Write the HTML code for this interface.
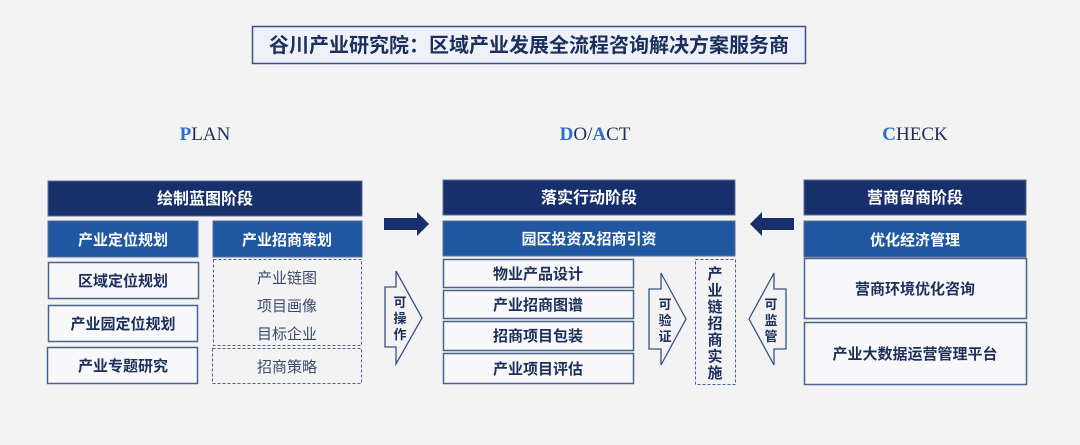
<!DOCTYPE html>
<html><head><meta charset="utf-8"><style>
body{margin:0;background:#f3f3f3;}
svg{display:block}
text{font-family:"Liberation Sans","Noto Sans CJK SC",sans-serif;font-weight:bold;}
.w{fill:#fff;font-size:15px}
.d{fill:#1c2f5c;font-size:15px}
.g{fill:#3a4a6e;font-size:15px;font-weight:normal}
.ser{font-family:"Liberation Serif",serif;font-weight:normal;font-size:19px;fill:#1c2f5c}
</style></head><body>
<svg width="1080" height="445" viewBox="0 0 1080 445">
<rect width="1080" height="445" fill="#f3f3f3"/>
<rect x="252.5" y="26.5" width="553" height="37" fill="#eef1f7" stroke="#3b5287" stroke-width="1.5"/>
<text x="529" y="52" text-anchor="middle" style="font-size:20px;fill:#1c2f5c">谷川产业研究院：区域产业发展全流程咨询解决方案服务商</text>
<text class="ser" x="205" y="140" text-anchor="middle"><tspan fill="#2a6fd0" font-weight="bold">P</tspan>LAN</text>
<text class="ser" x="595" y="140" text-anchor="middle"><tspan fill="#2a6fd0" font-weight="bold">D</tspan>O/<tspan fill="#2a6fd0" font-weight="bold">A</tspan>CT</text>
<text class="ser" x="915" y="140" text-anchor="middle"><tspan fill="#2a6fd0" font-weight="bold">C</tspan>HECK</text>

<g stroke="#5a6e99" stroke-width="1">
<rect x="48" y="181" width="314" height="35" fill="#17306b"/>
<rect x="48" y="221" width="150" height="36" fill="#1f57a0"/>
<rect x="213" y="221" width="149" height="36" fill="#1f57a0"/>
<rect x="48.5" y="262.5" width="150" height="36" fill="#f8f8fa" stroke="#4b6192" stroke-width="1.5"/>
<rect x="48.5" y="305.5" width="149" height="36" fill="#f8f8fa" stroke="#4b6192" stroke-width="1.5"/>
<rect x="47.5" y="347.5" width="150" height="36" fill="#f8f8fa" stroke="#4b6192" stroke-width="1.5"/>
<rect x="213.5" y="259.5" width="148" height="86" fill="none" stroke="#4b6192" stroke-dasharray="3,2"/>
<rect x="212.5" y="348.5" width="149" height="35" fill="none" stroke="#4b6192" stroke-dasharray="3,2"/>

<rect x="443" y="180" width="292" height="35" fill="#17306b"/>
<rect x="443" y="221" width="292" height="35" fill="#1f57a0"/>
<rect x="443.5" y="259.5" width="190" height="28" fill="#f8f8fa" stroke="#4b6192" stroke-width="1.5"/>
<rect x="443.5" y="290.5" width="190" height="28" fill="#f8f8fa" stroke="#4b6192" stroke-width="1.5"/>
<rect x="443.5" y="321.5" width="190" height="29" fill="#f8f8fa" stroke="#4b6192" stroke-width="1.5"/>
<rect x="443.5" y="353.5" width="190" height="30" fill="#f8f8fa" stroke="#4b6192" stroke-width="1.5"/>
<rect x="695.5" y="259.5" width="40" height="125" fill="none" stroke="#4b6192" stroke-dasharray="3,2"/>

<rect x="804" y="180" width="222" height="35" fill="#17306b"/>
<rect x="804" y="221" width="222" height="36" fill="#1f57a0"/>
<rect x="804.5" y="258.5" width="222" height="60" fill="#f8f8fa" stroke="#4b6192" stroke-width="1.5"/>
<rect x="804.5" y="322.5" width="222" height="62" fill="#f8f8fa" stroke="#4b6192" stroke-width="1.5"/>
</g>

<polygon points="384,218 417,218 417,212 429,224 417,236 417,230 384,230" fill="#17306b"/>
<polygon points="794,218 762,218 762,212 750,224 762,236 762,230 794,230" fill="#17306b"/>
<g fill="none" stroke="#3b5287" stroke-width="1.3">
<polygon points="385,287 396,287 396,271 422,318 396,364 396,347 385,347"/>
<polygon points="649,289 661,289 661,273 686,319 661,365 661,349 649,349"/>
<polygon points="786,289 774,289 774,273 749,319 774,365 774,349 786,349"/>
</g>
<g style="font-size:13px;fill:#1c2f5c" text-anchor="middle">
<text x="400" y="307">可</text><text x="400" y="323">操</text><text x="400" y="339">作</text>
<text x="665" y="309">可</text><text x="665" y="325">验</text><text x="665" y="341">证</text>
<text x="771" y="309">可</text><text x="771" y="325">监</text><text x="771" y="341">管</text>
</g>
<g style="font-size:15px;fill:#1c2f5c" text-anchor="middle">
<text x="715" y="279">产</text><text x="715" y="295.5">业</text><text x="715" y="312">链</text><text x="715" y="328.5">招</text><text x="715" y="345">商</text><text x="715" y="361.5">实</text><text x="715" y="378">施</text>
</g>

<g text-anchor="middle">
<text class="w" x="205" y="204" style="font-size:16px">绘制蓝图阶段</text>
<text class="w" x="123" y="245">产业定位规划</text>
<text class="w" x="287" y="245">产业招商策划</text>
<text class="d" x="123" y="286">区域定位规划</text>
<text class="d" x="123" y="329">产业园定位规划</text>
<text class="d" x="123" y="371">产业专题研究</text>
<text class="g" x="287" y="283">产业链图</text>
<text class="g" x="287" y="311">项目画像</text>
<text class="g" x="287" y="339">目标企业</text>
<text class="g" x="287" y="372">招商策略</text>

<text class="w" x="589" y="203" style="font-size:16px">落实行动阶段</text>
<text class="w" x="589" y="244">园区投资及招商引资</text>
<text class="d" x="538" y="279">物业产品设计</text>
<text class="d" x="538" y="310">产业招商图谱</text>
<text class="d" x="538" y="341">招商项目包装</text>
<text class="d" x="538" y="374">产业项目评估</text>

<text class="w" x="915" y="203" style="font-size:16px">营商留商阶段</text>
<text class="w" x="915" y="245">优化经济管理</text>
<text class="d" x="915" y="294">营商环境优化咨询</text>
<text class="d" x="915" y="359">产业大数据运营管理平台</text>
</g>
</svg>
</body></html>
